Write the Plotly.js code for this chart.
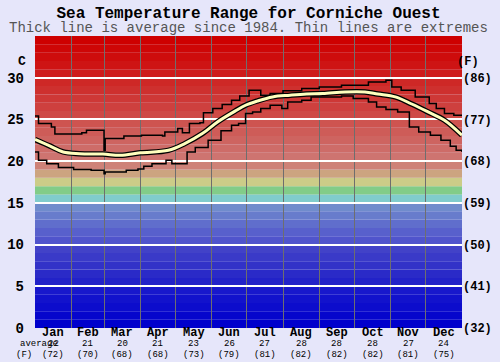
<!DOCTYPE html>
<html><head><meta charset="utf-8">
<script src="https://cdn.plot.ly/plotly-3.0.1.min.js"></script>
<style>html,body{margin:0;padding:0;background:#e6e6fa}#chart{width:500px;height:362px}</style>
</head><body><div id="chart"></div>
<script>
const months=['Jan','Feb','Mar','Apr','May','Jun','Jul','Aug','Sep','Oct','Nov','Dec'];
const monthDays=[31,28,31,30,31,30,31,31,30,31,30,31];
const monthAvgC=[22,21,20,21,23,26,27,28,28,28,27,24];
const monthAvgF=[72,70,68,68,73,79,81,82,82,82,81,75];
const celsiusTicks=[0,5,10,15,20,25,30];
const fahrenheitTicks=['(32)','(41)','(50)','(59)','(68)','(77)','(86)'];

const avgDay=[0,13,24,38,58,73,90,114,128,143,156,171,180,190,203,218,232,246,265,282,293,308,322,336,350,365];
const avgTemp=[22.6,21.8,21.1,20.9,20.85,20.7,21.0,21.3,22.1,23.3,24.7,26.0,26.7,27.2,27.7,27.9,28.05,28.1,28.3,28.3,28.05,27.7,26.85,25.9,24.9,23.1];

const maxDay=[0,3,14,17,40,44,59,60,76,91,109,111,122,126,132,141,144,152,160,168,175,183,193,201,212,228,243,262,285,300,305,313,325,337,343,350,358,365];
const maxTemp=[25.4,24.5,24.1,23.25,23.4,23.7,21.3,22.7,23.0,23.1,23.0,23.5,23.9,23.4,24.5,24.6,25.8,26.3,26.8,27.3,27.8,28.5,27.9,28.1,28.45,28.7,28.9,29.1,29.5,29.7,28.9,28.5,27.7,26.9,26.3,25.7,25.5,25.5];

const minDay=[0,3,10,20,33,48,59,60,78,88,93,100,112,117,130,137,148,159,168,174,180,186,193,201,211,216,228,236,262,272,285,292,300,310,320,328,338,347,355,360,365];
const minTemp=[21.1,20.1,19.7,19.25,19.0,18.9,18.5,18.7,18.9,19.05,19.4,19.7,20.1,19.7,21.1,21.65,22.5,23.65,24.3,24.5,25.7,25.9,26.3,26.7,26.3,27.1,27.3,27.7,27.8,27.5,27.1,26.5,26.2,25.9,24.1,23.5,23.1,22.5,21.8,21.3,21.1];

// one colour per 1 degree band, from 0 upward
const bandColors=[
 'rgb(0,0,204)','rgb(6,6,204)','rgb(12,12,204)','rgb(18,18,204)','rgb(24,24,204)',
 'rgb(34,34,200)','rgb(42,42,200)','rgb(50,50,200)','rgb(58,58,200)','rgb(66,66,200)',
 'rgb(80,84,204)','rgb(88,96,204)','rgb(96,110,204)','rgb(104,124,204)','rgb(112,140,204)',
 'rgb(128,204,204)','rgb(130,204,136)','rgb(204,204,136)','rgb(204,164,128)','rgb(206,130,120)',
 'rgb(206,116,112)','rgb(206,108,104)','rgb(206,100,96)','rgb(206,92,88)','rgb(206,84,80)',
 'rgb(206,74,70)','rgb(206,64,62)','rgb(206,56,54)','rgb(206,48,46)','rgb(206,40,38)',
 'rgb(206,28,28)','rgb(206,20,20)','rgb(206,12,12)','rgb(206,6,6)','rgb(206,0,0)'];

const shapes=bandColors.map((c,i)=>({type:'rect',xref:'paper',x0:0,x1:1,yref:'y',y0:i,y1:i+1,fillcolor:c,line:{width:0},layer:'below'}));

const bounds=[];let acc=0;const mids=[];
monthDays.forEach(d=>{mids.push(acc+d/2);acc+=d;bounds.push(acc);});
bounds.pop();

const mono='Liberation Mono, Courier New, monospace';
const py=px=>(328-px)/292; // pixel row -> paper y
const annotations=[];
months.forEach((m,i)=>{
  annotations.push({x:mids[i],xref:'x',y:py(333),yref:'paper',text:'<b>'+m+'</b>',showarrow:false,font:{family:mono,size:12,color:'#000'},yanchor:'middle'});
  annotations.push({x:mids[i],xref:'x',y:py(344),yref:'paper',text:String(monthAvgC[i]),showarrow:false,font:{family:mono,size:9,color:'#000'},yanchor:'middle'});
  annotations.push({x:mids[i],xref:'x',y:py(354.5),yref:'paper',text:'('+monthAvgF[i]+')',showarrow:false,font:{family:mono,size:9,color:'#000'},yanchor:'middle'});
});
annotations.push({x:-0.04,xref:'paper',y:py(344),yref:'paper',text:'average',showarrow:false,font:{family:mono,size:9,color:'#000'},yanchor:'middle'});
annotations.push({x:-0.05,xref:'paper',y:py(354.5),yref:'paper',text:'(F)',showarrow:false,font:{family:mono,size:9,color:'#000'},yanchor:'middle'});
annotations.push({x:-0.045,xref:'paper',y:py(61),yref:'paper',text:'<b>C</b>',showarrow:false,font:{family:mono,size:13,color:'#000'},yanchor:'middle'});
annotations.push({x:1.0445,xref:'paper',y:py(62),yref:'paper',text:'<b>(F)</b>',showarrow:false,font:{family:mono,size:12,color:'#000'},yanchor:'middle'});
annotations.push({x:0.5,xref:'paper',y:py(28),yref:'paper',text:'Thick line is average since 1984. Thin lines are extremes',showarrow:false,font:{family:mono,size:14,color:'#555'},yanchor:'middle'});

const traces=[
 {x:minDay,y:minTemp,mode:'lines',line:{shape:'hv',color:'#000',width:1.5},hoverinfo:'skip'},
 {x:maxDay,y:maxTemp,mode:'lines',line:{shape:'hv',color:'#000',width:1.5},hoverinfo:'skip'},
 {x:avgDay,y:avgTemp,mode:'lines',line:{shape:'spline',color:'#000',width:5.5},hoverinfo:'skip'},
 {x:avgDay,y:avgTemp,mode:'lines',line:{shape:'spline',color:'rgb(255,255,190)',width:3},hoverinfo:'skip'},
 {x:[0],y:[0],yaxis:'y2',mode:'markers',marker:{opacity:0},hoverinfo:'skip'}
];

const layout={
 width:500,height:362,
 margin:{l:35,r:38,t:36,b:34,pad:0},
 paper_bgcolor:'rgb(230,230,250)',plot_bgcolor:'rgba(0,0,0,0)',
 showlegend:false,
 title:{text:'<b>Sea Temperature Range for Corniche Ouest</b>',font:{family:mono,size:16,color:'#000'},x:0.5,xref:'paper',y:1-12/362,yref:'container',yanchor:'middle'},
 xaxis:{range:[0,365],tickvals:bounds,showticklabels:false,showgrid:true,gridcolor:'rgb(110,110,110)',gridwidth:1,zeroline:false,showline:false,ticks:'',fixedrange:true},
 yaxis:{range:[0,35],tickvals:celsiusTicks,ticktext:celsiusTicks.map(String),showgrid:true,gridcolor:'#fff',gridwidth:2,zeroline:false,ticks:'',ticklabelstandoff:10,tickfont:{family:mono,size:14,color:'#000',weight:'bold'}},
 yaxis2:{range:[0,35],overlaying:'y',side:'right',tickvals:celsiusTicks,ticktext:fahrenheitTicks,showgrid:false,zeroline:false,ticks:'',tickfont:{family:mono,size:12,color:'#000',weight:'bold'}},
 shapes:shapes,
 annotations:annotations
};
Plotly.newPlot('chart',traces,layout,{staticPlot:true,displayModeBar:false});
</script></body></html>
